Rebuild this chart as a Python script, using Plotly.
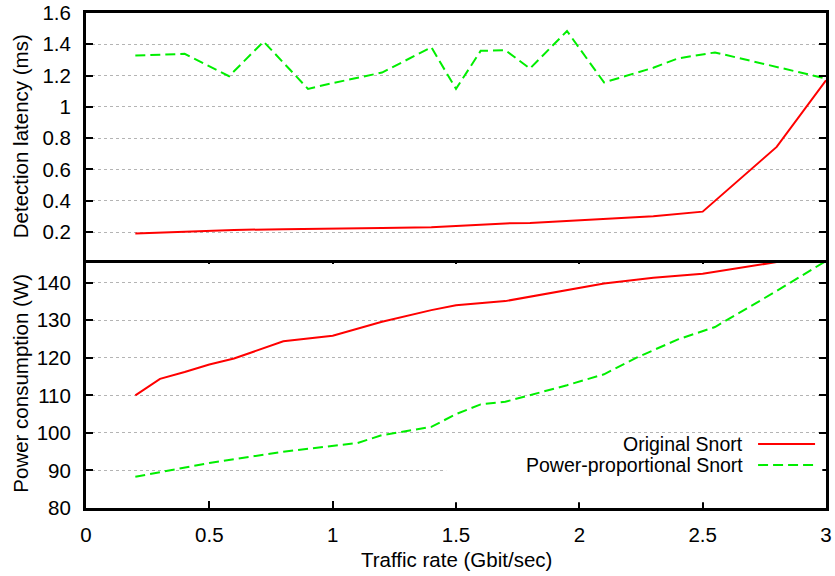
import plotly.graph_objects as go

# ---------------- data ----------------
lat_orig_x = [0.2, 0.4, 0.6, 0.8, 1.0, 1.2, 1.4, 1.5, 1.7, 1.8, 2.0, 2.1, 2.3, 2.5, 2.8, 3.0]
lat_orig_y = [0.19, 0.20, 0.213, 0.218, 0.22, 0.225, 0.23, 0.238, 0.255, 0.257, 0.275, 0.285, 0.30, 0.33, 0.744, 1.17]

lat_pp_x = [0.2, 0.4, 0.58, 0.72, 0.9, 1.0, 1.2, 1.4, 1.5, 1.6, 1.7, 1.8, 1.95, 2.1, 2.3, 2.4, 2.55, 3.0]
lat_pp_y = [1.328, 1.339, 1.196, 1.417, 1.115, 1.152, 1.219, 1.381, 1.115, 1.358, 1.362, 1.245, 1.485, 1.156, 1.25, 1.31, 1.348, 1.181]

pow_orig_x = [0.2, 0.3, 0.4, 0.5, 0.6, 0.8, 1.0, 1.2, 1.4, 1.5, 1.7, 1.8, 2.0, 2.1, 2.3, 2.5, 2.8, 3.0]
pow_orig_y = [110, 114.4, 116.2, 118.2, 119.8, 124.4, 125.9, 129.6, 132.7, 134.0, 135.1, 136.3, 138.7, 139.8, 141.3, 142.4, 145.5, 145.8]

pow_pp_x = [0.2, 0.3, 0.5, 0.8, 1.0, 1.1, 1.2, 1.4, 1.5, 1.6, 1.7, 1.95, 2.1, 2.23, 2.4, 2.55, 2.8, 3.0]
pow_pp_y = [88.3, 89.5, 92.0, 95.0, 96.5, 97.3, 99.4, 101.6, 105.0, 107.6, 108.3, 112.7, 115.6, 120.0, 124.9, 128.2, 137.8, 145.8]

x_ticks = [0, 0.5, 1, 1.5, 2, 2.5, 3]
x_ticktext = ["0", "0.5", "1", "1.5", "2", "2.5", "3"]
lat_ticks = [0.2, 0.4, 0.6, 0.8, 1.0, 1.2, 1.4, 1.6]
lat_ticktext = ["0.2", "0.4", "0.6", "0.8", "1", "1.2", "1.4", "1.6"]
pow_ticks = [80, 90, 100, 110, 120, 130, 140]
pow_ticktext = ["80", "90", "100", "110", "120", "130", "140"]

series_names = ["Original Snort", "Power-proportional Snort"]
x_title = "Traffic rate (Gbit/sec)"
lat_title = "Detection latency (ms)"
pow_title = "Power consumption (W)"

# ---------------- style ----------------
RED = "#ff0000"
GREEN = "#00ee00"
FONT = "Liberation Sans, Arial, sans-serif"
FS = 20.5
LEG_FS = 19.5
DASH = "10px,5px"

fig = go.Figure()

fig.add_trace(go.Scatter(x=lat_orig_x, y=lat_orig_y, mode="lines", xaxis="x2", yaxis="y2",
                         line=dict(color=RED, width=2), showlegend=False))
fig.add_trace(go.Scatter(x=lat_pp_x, y=lat_pp_y, mode="lines", xaxis="x2", yaxis="y2",
                         line=dict(color=GREEN, width=2, dash=DASH), showlegend=False))
fig.add_trace(go.Scatter(x=pow_orig_x, y=pow_orig_y, mode="lines", xaxis="x", yaxis="y",
                         line=dict(color=RED, width=2), showlegend=False))
fig.add_trace(go.Scatter(x=pow_pp_x, y=pow_pp_y, mode="lines", xaxis="x", yaxis="y",
                         line=dict(color=GREEN, width=2, dash=DASH), showlegend=False))

split = 0.5037
ov = 0.003  # overlap so the shared border lines coincide

common_axis = dict(showline=True, linecolor="black", linewidth=3, zeroline=False,
                   tickcolor="black", tickwidth=2, ticklen=7, ticks="inside",
                   automargin=False,
                   tickfont=dict(family=FONT, size=FS, color="black"))

fig.update_layout(
    width=835, height=576,
    margin=dict(l=86, r=9, t=13, b=68),
    paper_bgcolor="white", plot_bgcolor="white",
    font=dict(family=FONT, size=FS, color="black"),
    showlegend=False,
    xaxis=dict(**common_axis, domain=[0, 1], anchor="y", range=[0, 3],
               tickvals=x_ticks, ticktext=x_ticktext, mirror="ticks",
               showgrid=False, ticklabelstandoff=6),
    yaxis=dict(**common_axis, domain=[0, split + ov], anchor="x", range=[80, 146.8],
               tickvals=pow_ticks, ticktext=pow_ticktext, mirror="ticks",
               showgrid=True, gridcolor="#b4b4b4", gridwidth=1, griddash="dot",
               ticklabelstandoff=8),
    xaxis2=dict(showline=True, linecolor="black", linewidth=3, zeroline=False,
                domain=[0, 1], anchor="y2", range=[0, 3], matches="x", automargin=False,
                ticks="", showticklabels=False, mirror=True, showgrid=False),
    yaxis2=dict(**common_axis, domain=[split - ov, 1], anchor="x2", range=[0.02, 1.6],
                tickvals=lat_ticks, ticktext=lat_ticktext, mirror="ticks",
                showgrid=True, gridcolor="#b4b4b4", gridwidth=1, griddash="dot",
                ticklabelstandoff=8),
)

# legend background box (covers gridlines; no trace passes through this area)
fig.add_shape(type="rect", xref="x", yref="y", x0=1.46, x1=2.985, y0=81.5, y1=92.5,
              fillcolor="white", line=dict(width=0), layer="above")

# manual gnuplot-style legend (text left of sample line)
leg_y = [0.1292, 0.0868]
leg_colors = [RED, GREEN]
leg_dash = ["solid", DASH]
for name, yy, col, dsh in zip(series_names, leg_y, leg_colors, leg_dash):
    fig.add_annotation(text=name, xref="paper", yref="paper", x=0.8906, y=yy,
                       xanchor="right", yanchor="middle", showarrow=False,
                       font=dict(family=FONT, size=LEG_FS, color="black"))
    fig.add_shape(type="line", xref="paper", yref="paper", x0=0.9082, x1=0.9852, y0=yy, y1=yy,
                  line=dict(color=col, width=2, dash=dsh), layer="above")

# axis titles
fig.add_annotation(text=x_title, xref="paper", yref="paper", x=0.5, y=-0.105,
                   xanchor="center", yanchor="middle", showarrow=False,
                   font=dict(family=FONT, size=FS, color="black"))
fig.add_annotation(text=lat_title, xref="paper", yref="paper", x=-0.0887, y=(1 + split) / 2,
                   xanchor="center", yanchor="middle", textangle=-90, showarrow=False,
                   font=dict(family=FONT, size=FS, color="black"))
fig.add_annotation(text=pow_title, xref="paper", yref="paper", x=-0.0887, y=split / 2,
                   xanchor="center", yanchor="middle", textangle=-90, showarrow=False,
                   font=dict(family=FONT, size=FS, color="black"))

fig.write_html("out.html")
